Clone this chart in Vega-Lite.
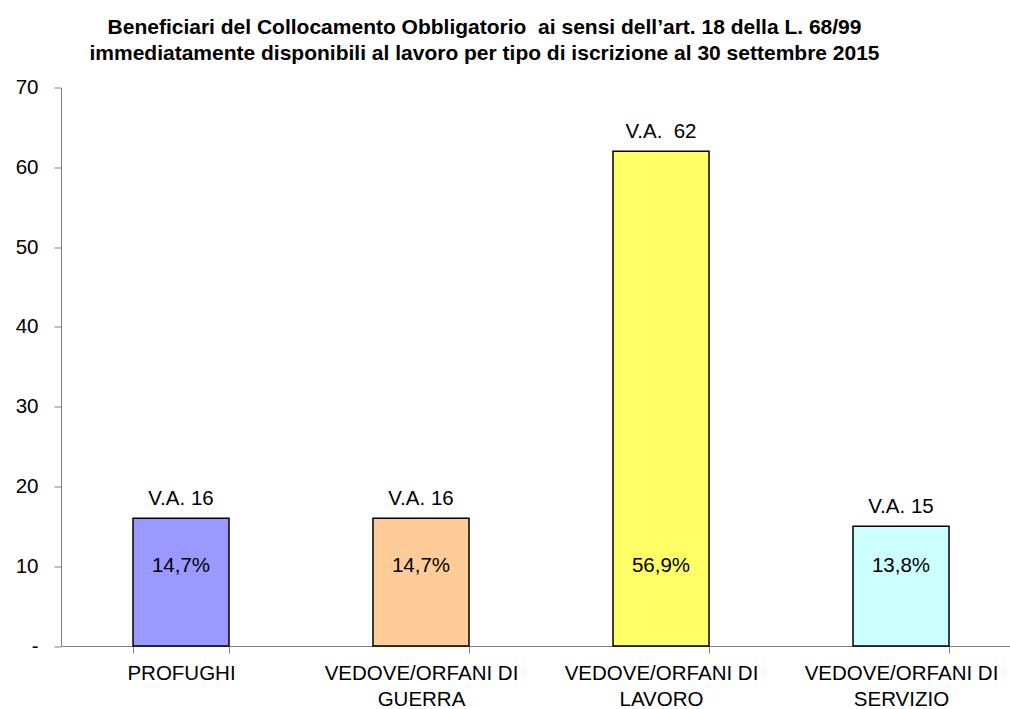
{
  "$schema": "https://vega.github.io/schema/vega-lite/v6.json",
  "autosize": "none",
  "width": 949,
  "height": 558.5,
  "padding": {"left": 61, "top": 87.5, "right": 0, "bottom": 63},
  "background": "white",
  "title": {
    "text": ["Beneficiari del Collocamento Obbligatorio \u00a0ai sensi dell’art. 18 della L. 68/99", "immediatamente disponibili al lavoro per tipo di iscrizione al 30 settembre 2015"],
    "font": "Liberation Sans",
    "fontSize": 21,
    "fontWeight": "bold",
    "color": "black",
    "anchor": "middle",
    "dx": -51,
    "offset": 14,
    "lineHeight": 26
  },
  "config": {
    "view": {"stroke": null},
    "font": "Liberation Sans",
    "axis": {"grid": false, "domainColor": "#808080", "tickColor": "#808080", "labelColor": "black", "labelFont": "Liberation Sans", "labelFontSize": 20.5, "labelLimit": 0, "title": null}
  },
  "data": {
    "values": [
      {"categoria": "PROFUGHI", "valore": 16, "va": "V.A. 16", "perc": "14,7%"},
      {"categoria": "VEDOVE/ORFANI DI GUERRA", "valore": 16, "va": "V.A. 16", "perc": "14,7%"},
      {"categoria": "VEDOVE/ORFANI DI LAVORO", "valore": 62, "va": "V.A.\u00a0\u00a062", "perc": "56,9%"},
      {"categoria": "VEDOVE/ORFANI DI SERVIZIO", "valore": 15, "va": "V.A. 15", "perc": "13,8%"}
    ]
  },
  "encoding": {
    "x": {
      "field": "categoria",
      "type": "nominal",
      "sort": null,
      "scale": {"range": [0, 960], "paddingInner": 0.6, "paddingOuter": 0.3},
      "axis": {
        "labelAngle": 0,
        "tickBand": "extent",
        "tickSize": 7,
        "labelPadding": 10,
        "labelLineHeight": 26,
        "labelExpr": "split(replace(datum.label, ' DI ', ' DI|'), '|')"
      }
    }
  },
  "layer": [
    {
      "mark": {"type": "bar", "stroke": "black", "strokeWidth": 1.5},
      "encoding": {
        "y": {
          "field": "valore",
          "type": "quantitative",
          "scale": {"domain": [0, 70], "nice": false},
          "axis": {
            "values": [0, 10, 20, 30, 40, 50, 60, 70],
            "tickSize": 7,
            "labelPadding": 16,
            "labelExpr": "datum.value == 0 ? '-\u00a0\u00a0\u00a0\u00a0' : datum.label"
          }
        },
        "fill": {
          "field": "categoria",
          "type": "nominal",
          "sort": null,
          "scale": {"range": ["#9999FF", "#FFCC99", "#FFFF66", "#CCFFFF"]},
          "legend": null
        }
      }
    },
    {
      "mark": {"type": "text", "fontSize": 20.5, "color": "black", "baseline": "alphabetic", "dy": -13},
      "encoding": {
        "y": {"field": "valore", "type": "quantitative"},
        "text": {"field": "va"}
      }
    },
    {
      "mark": {"type": "text", "fontSize": 20.5, "color": "black", "baseline": "middle"},
      "encoding": {
        "y": {"datum": 10},
        "text": {"field": "perc"}
      }
    }
  ]
}
